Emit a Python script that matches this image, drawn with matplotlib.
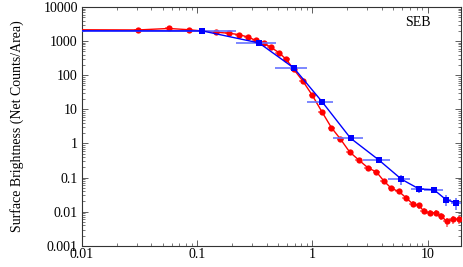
import numpy as np
import matplotlib
matplotlib.use("Agg")
import matplotlib.pyplot as plt
from matplotlib.ticker import FuncFormatter, LogLocator, NullFormatter

# red profile (fine bins)
red_r = [0.007, 0.0306, 0.0568, 0.0848, 0.147, 0.188, 0.230, 0.275, 0.323, 0.378,
         0.436, 0.511, 0.593, 0.689, 0.824, 0.998, 1.21, 1.46, 1.74, 2.10,
         2.52, 3.04, 3.59, 4.16, 4.84, 5.62, 6.47, 7.41, 8.36, 9.23,
         10.4, 11.7, 13.1, 14.6, 16.5, 18.6]
red_sb = [2150, 2120, 2340, 2150, 1815, 1700, 1545, 1320, 1045, 865,
          660, 458, 290, 148, 68, 25.6, 8.4, 2.92, 1.38, 0.566,
          0.330, 0.192, 0.147, 0.080, 0.0483, 0.0394, 0.0259, 0.0170, 0.0153, 0.0106,
          0.0094, 0.0094, 0.0076, 0.0052, 0.0060, 0.0060]
red_rel_err = [0.05, 0.05, 0.05, 0.05, 0.05, 0.05, 0.05, 0.05, 0.05, 0.05,
               0.05, 0.05, 0.05, 0.06, 0.06, 0.06, 0.07, 0.07, 0.08, 0.08,
               0.1, 0.1, 0.12, 0.12, 0.14, 0.15, 0.16, 0.18, 0.2, 0.2,
               0.22, 0.22, 0.25, 0.3, 0.28, 0.28]
red_xfrac = 0.07

# blue profile (coarse bins)
blue_r = [0.0055, 0.111, 0.344, 0.689, 1.21, 2.14, 3.76, 5.92, 8.41, 11.3, 14.5, 17.7]
blue_sb = [2000, 1982, 883, 163, 16.8, 1.43, 0.330, 0.0897, 0.0467, 0.0445, 0.0222, 0.0185]
blue_lo = [0.003, 0.0565, 0.219, 0.47, 0.9, 1.5, 2.73, 4.5, 7.1, 9.3, 13.5, 15.8]
blue_hi = [0.0565, 0.219, 0.481, 0.899, 1.51, 2.73, 4.69, 7.08, 9.3, 13.5, 15.8, 19.5]
blue_rel_err = [0.03, 0.03, 0.04, 0.05, 0.06, 0.08, 0.12, 0.3, 0.25, 0.2, 0.35, 0.4]

plt.rcParams['font.family'] = ['Liberation Serif', 'DejaVu Serif']
plt.rcParams['font.size'] = 10

fig = plt.figure(figsize=(4.63, 2.67), dpi=100)
ax = fig.add_axes([0.177, 0.079, 0.819, 0.895])

red_r = np.array(red_r)
red_sb = np.array(red_sb)
red_yerr = red_sb * np.array(red_rel_err)
red_xerr = red_r * red_xfrac
ax.errorbar(red_r, red_sb, xerr=red_xerr, yerr=red_yerr, fmt='none',
            ecolor=(1, 0.45, 0.45), elinewidth=1.3, zorder=2)
ax.plot(red_r, red_sb, '-', color='red', lw=1.0, zorder=3)
ax.plot(red_r, red_sb, 'o', color='red', ms=4.5, mew=0, zorder=4)

blue_r = np.array(blue_r)
blue_sb = np.array(blue_sb)
bx = [blue_r - np.array(blue_lo), np.array(blue_hi) - blue_r]
ax.errorbar(blue_r, blue_sb, xerr=bx, yerr=blue_sb * np.array(blue_rel_err),
            fmt='none', ecolor=(0.4, 0.45, 1.0), elinewidth=1.2, zorder=5)
ax.plot(blue_r, blue_sb, '-', color='blue', lw=1.0, zorder=6)
ax.plot(blue_r, blue_sb, 's', color='blue', ms=4.5, mew=0, zorder=7)

ax.set_xscale('log')
ax.set_yscale('log')
ax.set_xlim(0.01, 19.5)
ax.set_ylim(0.001, 10000)

fmt = FuncFormatter(lambda v, p: '%g' % v)
ax.xaxis.set_major_formatter(fmt)
ax.yaxis.set_major_formatter(fmt)
ax.yaxis.set_major_locator(LogLocator(base=10, numticks=10))
ax.yaxis.set_minor_locator(LogLocator(base=10, subs=np.arange(2, 10), numticks=20))
ax.yaxis.set_minor_formatter(NullFormatter())
ax.xaxis.set_minor_formatter(NullFormatter())
ax.tick_params(which='both', direction='in', top=True, right=True, color='#444444')
ax.tick_params(which='major', length=4, width=0.6)
ax.tick_params(which='minor', length=2, width=0.5)
ax.tick_params(axis='x', pad=1.5)
ax.tick_params(axis='y', pad=3)
for s in ax.spines.values():
    s.set_color('#333333')
    s.set_linewidth(0.8)

ax.set_ylabel('Surface Brightness (Net Counts/Area)', labelpad=14)
ax.text(0.887, 0.933, 'SEB', transform=ax.transAxes, ha='center', va='center')

fig.savefig('out.png', dpi=100)
